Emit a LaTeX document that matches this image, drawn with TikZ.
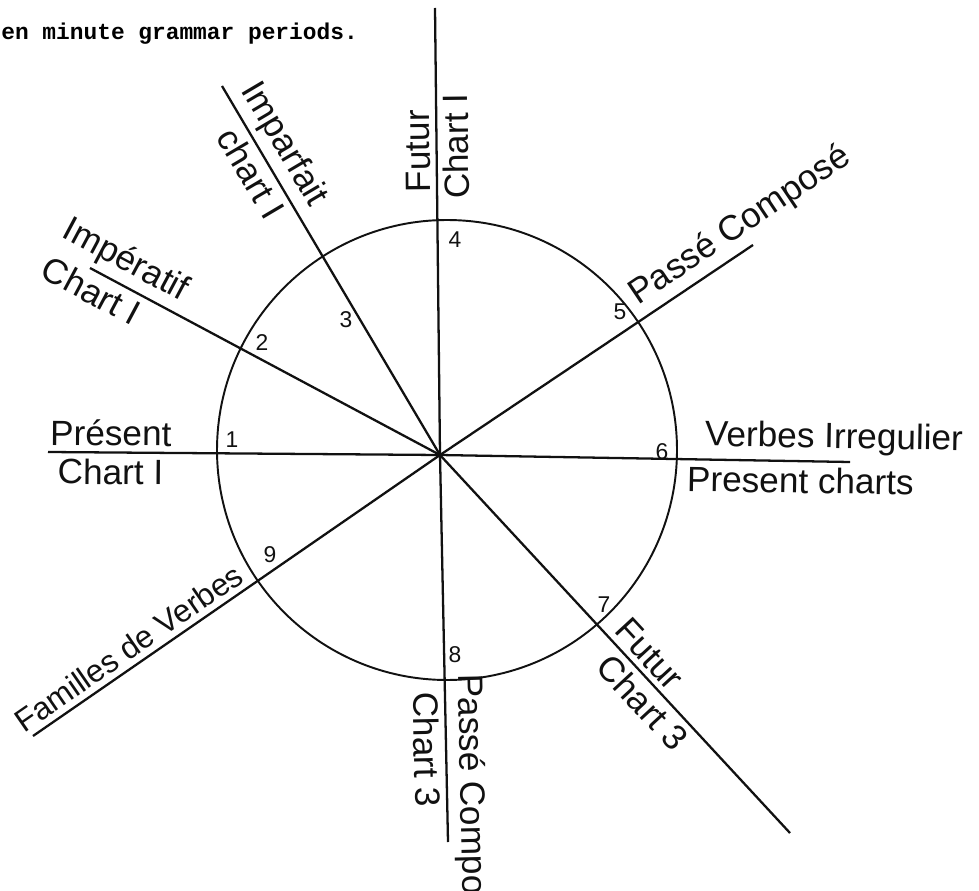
\documentclass[tikz,border=0pt]{standalone}
\usepackage{fontspec}
\setmainfont{Liberation Sans}
\newfontfamily\typewriter{Liberation Mono}
\usetikzlibrary{calc}
\definecolor{Ink}{HTML}{111111}

\begin{document}
\begin{tikzpicture}[
    spoke/.style={draw=Ink, line width=1.3pt},
    hand/.style={font=\fontsize{20}{22}\selectfont, text=Ink, inner sep=3pt, sloped},
    num/.style={font=\fontsize{13}{14}\selectfont, text=Ink}
  ]
    \useasboundingbox (0,0) rectangle (19.58,17.8);
    \node[anchor=west, inner sep=0pt, font=\typewriter\bfseries\fontsize{13}{14}\selectfont] (title) at (0.02,17.12) {en minute grammar periods.};

    % hub and ends of the spokes
    \coordinate (O) at (8.8,8.7);
    \coordinate (present) at (0.96,8.76);
    \coordinate (irreg) at (17.0,8.56);
    \coordinate (futurtop) at (8.7,17.64);
    \coordinate (pcbottom) at (8.96,0.96);
    \coordinate (imparfait) at (4.44,16.08);
    \coordinate (imperatif) at (1.8,12.44);
    \coordinate (pctop) at (15.06,12.9);
    \coordinate (familles) at (0.66,3.08);
    \coordinate (futurlow) at (15.8,1.14);

    \node[draw=Ink, line width=1.1pt, circle, minimum size=9.2cm, inner sep=0pt] (wheel) at (8.94,8.8) {};

    \draw[spoke] (present) -- (O) node[hand, pos=0.16, above] {Présent} node[hand, pos=0.16, below] {Chart I};
    \draw[spoke] (imperatif) -- (O) node[hand, pos=0.07, above] {Impératif} node[hand, pos=0.03, below] {Chart I};
    \draw[spoke] (imparfait) -- (O) node[hand, pos=0.19, above] {Imparfait} node[hand, pos=0.21, below] {chart I};
    \draw[spoke] (O) -- (futurtop) node[hand, allow upside down, pos=0.68, above] {Futur} node[hand, allow upside down, pos=0.69, below] {Chart I};
    \draw[spoke] (O) -- (pctop) node[hand, pos=1.0, above] {Passé Composé};
    \draw[spoke] (O) -- (irreg) node[hand, pos=0.96, above] {Verbes Irregulier} node[hand, pos=0.88, below] {Present charts};
    \draw[spoke] (O) -- (futurlow) node[hand, pos=0.56, above] {Futur} node[hand, pos=0.62, below] {Chart 3};
    \draw[spoke] (O) -- (pcbottom) node[hand, pos=0.9, above] {Passé Composé} node[hand, pos=0.76, below] {Chart 3};
    \draw[spoke] (familles) -- (O) node[hand, pos=0.26, above, font=\fontsize{18}{20}\selectfont] {Familles de Verbes};

    % period numbers round the wheel
    \foreach \k/\x/\y in {1/4.64/9.0, 2/5.24/10.94, 3/6.92/11.4, 4/9.1/13.0, 5/12.4/11.56,
                          6/13.24/8.76, 7/12.08/5.7, 8/9.1/4.7, 9/5.4/6.7}
      \node[num] (n\k) at (\x,\y) {\k};
  \end{tikzpicture}
\end{document}
